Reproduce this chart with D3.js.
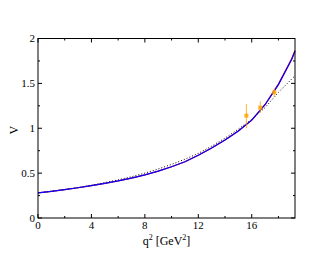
<!DOCTYPE html>
<html><head><meta charset="utf-8">
<script src="https://cdn.jsdelivr.net/npm/d3@7"></script>
<style>body{margin:0;background:#fff} svg text{font-family:"Liberation Serif", "DejaVu Serif", serif !important;}</style>
</head><body><svg id="c" width="332" height="257"></svg>
<script>
const q2 = [0,1,2,3,4,5,6,7,8,9,10,11,12,13,14,15,16,17,18,19,19.24];
const vBlue = [0.28,0.297,0.316,0.337,0.36,0.385,0.413,0.445,0.48,0.523,0.571,0.626,0.70,0.78,0.87,0.97,1.09,1.262,1.486,1.768,1.857];
const vRed  = [0.28,0.297,0.316,0.337,0.36,0.385,0.413,0.445,0.48,0.523,0.571,0.626,0.70,0.78,0.87,0.97,1.09,1.265,1.492,1.778,1.866];
const vDot  = [0.28,0.298,0.318,0.341,0.366,0.394,0.425,0.46,0.50,0.546,0.597,0.655,0.72,0.80,0.89,0.99,1.10,1.23,1.40,1.55,1.585];
const ptQ2 = [15.6,16.64,17.69];
const ptV = [1.14,1.23,1.40];
const ptLo = [1.00,1.17,1.35];
const ptHi = [1.27,1.30,1.445];
const xTicks = [0,4,8,12,16];
const yTicks = [0,0.5,1,1.5,2];

const L=38,R=295,T=38.5,B=218;
const x=d3.scaleLinear().domain([0,19.24]).range([L,R]);
const y=d3.scaleLinear().domain([0,2]).range([B,T]);
const svg=d3.select("#c");

function line(vals){return d3.line().x((d,i)=>x(q2[i])).y(d=>y(d))(vals);}
svg.append("path").attr("d",line(vRed)).attr("fill","none").attr("stroke","#ff0000").attr("stroke-width",1.2);
svg.append("path").attr("d",line(vDot)).attr("fill","none").attr("stroke","#000").attr("stroke-width",1).attr("stroke-dasharray","1,2");
svg.append("path").attr("d",line(vBlue)).attr("fill","none").attr("stroke","#0000ff").attr("stroke-width",1.2);

const g=svg.append("g");
ptQ2.forEach((q,i)=>{
  g.append("line").attr("x1",x(q)).attr("x2",x(q)).attr("y1",y(ptLo[i])).attr("y2",y(ptHi[i])).attr("stroke","#ffa500").attr("stroke-width",1).attr("opacity",0.8);
  g.append("rect").attr("x",x(q)-2).attr("y",y(ptV[i])-2).attr("width",4).attr("height",4).attr("fill","#ffa500").attr("opacity",0.85);
});

const xMinor=d3.range(0,19.24,2), yMinor=d3.range(0,2.01,0.25);
const ax=svg.append("g").attr("stroke","#000").attr("stroke-width",1);
ax.append("rect").attr("x",L).attr("y",T).attr("width",R-L).attr("height",B-T).attr("fill","none");
xMinor.forEach(v=>{const big=xTicks.includes(v);const len=big?4:2;
  ax.append("line").attr("x1",x(v)).attr("x2",x(v)).attr("y1",B).attr("y2",B-len);
  ax.append("line").attr("x1",x(v)).attr("x2",x(v)).attr("y1",T).attr("y2",T+len);});
yMinor.forEach(v=>{const big=yTicks.includes(v);const len=big?4:2;
  ax.append("line").attr("y1",y(v)).attr("y2",y(v)).attr("x1",L).attr("x2",L+len);
  ax.append("line").attr("y1",y(v)).attr("y2",y(v)).attr("x1",R).attr("x2",R-len);});

svg.selectAll(".xt").data(xTicks).enter().append("text").attr("x",d=>x(d)).attr("y",B+11).attr("text-anchor","middle").attr("font-size",11).text(d=>d);
svg.selectAll(".yt").data(yTicks).enter().append("text").attr("x",L-3).attr("y",d=>y(d)+3.5).attr("text-anchor","end").attr("font-size",11).text(d=>d);

const xl=svg.append("text").attr("x",(L+R)/2).attr("y",245).attr("text-anchor","middle").attr("font-size",12);
xl.append("tspan").text("q");
xl.append("tspan").attr("dy",-5).attr("font-size",8).text("2");
xl.append("tspan").attr("dy",5).text(" [GeV");
xl.append("tspan").attr("dy",-5).attr("font-size",8).text("2");
xl.append("tspan").attr("dy",5).text("]");
svg.append("text").attr("transform",`translate(18,${(T+B)/2+2}) rotate(-90)`).attr("text-anchor","middle").attr("font-size",12).text("V");
</script></body></html>
